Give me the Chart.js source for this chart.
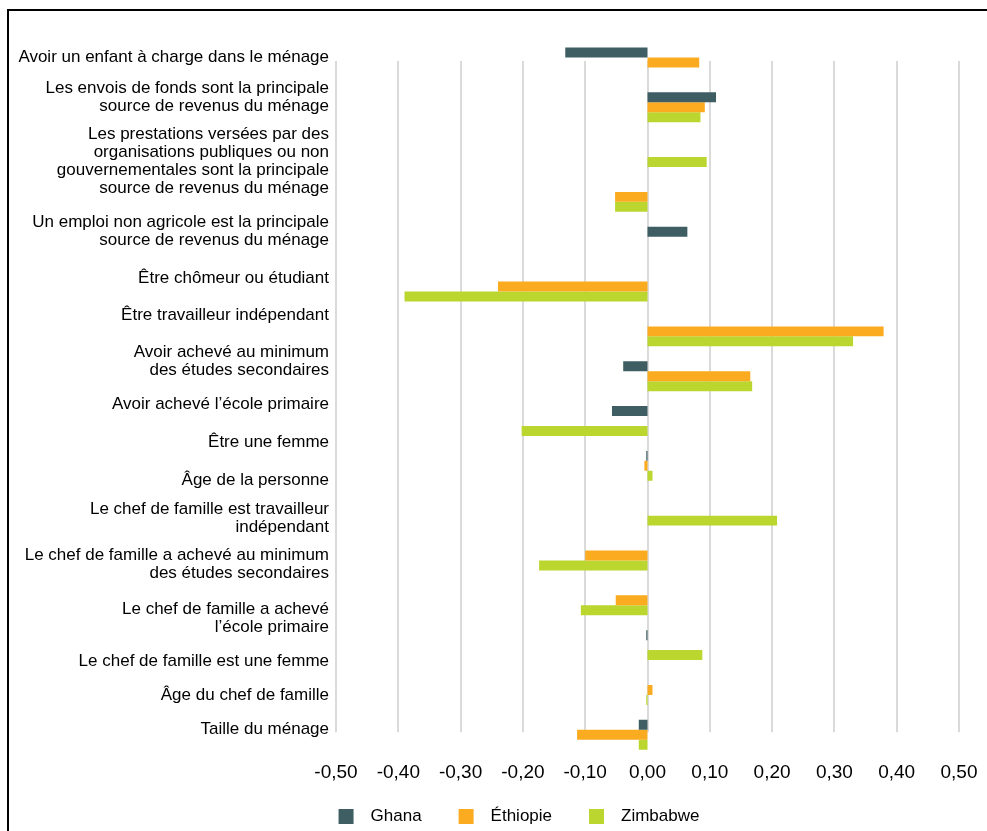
<!DOCTYPE html>
<html>
<head>
<meta charset="utf-8">
<script src="https://cdn.jsdelivr.net/npm/chart.js@4.4.1/dist/chart.umd.min.js"></script>
<style>
  html, body { margin: 0; padding: 0; background: #fff; overflow: hidden; }
  #wrap { position: absolute; left: 0; top: 0; width: 987px; height: 835px; }
  #frame { position: absolute; left: 7px; top: 9px; width: 980px; height: 830px;
           border-top: 2px solid #000; border-left: 2px solid #000; }
</style>
</head>
<body>
<div id="frame"></div>
<div id="wrap"><canvas id="myChart"></canvas></div>
<script>
// Categories, top to bottom
let categories = [
    "Avoir un enfant à charge dans le ménage",
    ["Les envois de fonds sont la principale", "source de revenus du ménage"],
    ["Les prestations versées par des", "organisations publiques ou non", "gouvernementales sont la principale", "source de revenus du ménage"],
    ["Un emploi non agricole est la principale", "source de revenus du ménage"],
    "Être chômeur ou étudiant",
    "Être travailleur indépendant",
    ["Avoir achevé au minimum", "des études secondaires"],
    "Avoir achevé l’école primaire",
    "Être une femme",
    "Âge de la personne",
    ["Le chef de famille est travailleur", "indépendant"],
    ["Le chef de famille a achevé au minimum", "des études secondaires"],
    ["Le chef de famille a achevé", "l’école primaire"],
    "Le chef de famille est une femme",
    "Âge du chef de famille",
    "Taille du ménage"
];

// Series values (null = no bar)
let ghana    = [-0.132, 0.110, null, null, 0.064, null, null, -0.039, -0.057, -0.002, null, null, null, -0.002, null, -0.014];
let ethiopie = [0.083, 0.092, null, -0.052, null, -0.240, 0.379, 0.165, null, -0.005, null, -0.100, -0.051, null, 0.008, -0.113];
let zimbabwe = [null, 0.085, 0.095, -0.052, null, -0.390, 0.330, 0.168, -0.202, 0.008, 0.208, -0.174, -0.107, 0.088, -0.002, -0.014];

// Tick values on the x axis
let xTicks = [-0.5, -0.4, -0.3, -0.2, -0.1, 0, 0.1, 0.2, 0.3, 0.4, 0.5];

let fontFamily = "'Liberation Sans', Arial, sans-serif";

// in the original the category labels are spaced by hand, not on the bar centres
let labelNudge = [-5, -10, 9, 34, 37, 29, 30, 28, 21, 14, 8, 9, 18, 16, 5, -5];

// vertical gridlines that stop short of the plot edges
const shortGrid = {
    id: 'shortGrid',
    beforeDatasetsDraw(chart) {
        const ctx = chart.ctx;
        const area = chart.chartArea;
        const x = chart.scales.x;
        ctx.save();
        ctx.strokeStyle = '#dadada';
        ctx.lineWidth = 2;
        xTicks.forEach(function(v) {
            let px = Math.round(x.getPixelForValue(v));
            ctx.beginPath();
            ctx.moveTo(px, area.top + 21);
            ctx.lineTo(px, area.bottom - 25);
            ctx.stroke();
        });
        ctx.restore();
    }
};

// category labels, drawn next to the y scale
const catLabels = {
    id: 'catLabels',
    afterDraw(chart) {
        const ctx = chart.ctx;
        const y = chart.scales.y;
        const right = chart.chartArea.left - 7;
        ctx.save();
        ctx.fillStyle = '#000';
        ctx.font = "17px " + fontFamily;
        ctx.textAlign = 'right';
        ctx.textBaseline = 'middle';
        categories.forEach(function(lab, i) {
            let lines = Array.isArray(lab) ? lab : [lab];
            let cy = y.getPixelForValue(i) + labelNudge[i];
            lines.forEach(function(line, j) {
                ctx.fillText(line, right, cy + (j - (lines.length - 1) / 2) * 18);
            });
        });
        ctx.restore();
    }
};

// move the legend a little to the right, like in the original
const legendShift = {
    id: 'legendShift',
    afterLayout(chart) {
        chart.legend.left += 43;
        chart.legend.right += 43;
    }
};

document.addEventListener("DOMContentLoaded", function() {
    let ctx = document.getElementById('myChart').getContext('2d');
    new Chart(ctx, {
        type: 'bar',
        data: {
            labels: categories,
            datasets: [
                { label: 'Ghana', data: ghana, backgroundColor: '#3f5e63' },
                { label: 'Éthiopie', data: ethiopie, backgroundColor: '#fbab20' },
                { label: 'Zimbabwe', data: zimbabwe, backgroundColor: '#bad62f' }
            ]
        },
        plugins: [shortGrid, catLabels, legendShift],
        options: {
            indexAxis: 'y',
            responsive: true,
            maintainAspectRatio: false,
            animation: false,
            categoryPercentage: 0.667,
            barPercentage: 1,
            layout: { padding: { left: 10, right: 28, top: 40, bottom: 0 } },
            scales: {
                x: {
                    min: -0.5,
                    max: 0.5,
                    afterBuildTicks: function(scale) {
                        scale.ticks = xTicks.map(function(v) { return { value: v }; });
                    },
                    grid: { display: false, drawTicks: false },
                    border: { display: false },
                    ticks: {
                        color: '#000',
                        padding: 4,
                        maxRotation: 0,
                        font: { family: fontFamily, size: 19 },
                        callback: function(v) { return Number(v).toFixed(2).replace('.', ','); }
                    }
                },
                y: {
                    afterFit: function(scale) { scale.width = 326; },
                    grid: { display: false, drawTicks: false },
                    border: { display: false },
                    ticks: { display: false }
                }
            },
            plugins: {
                legend: {
                    position: 'bottom',
                    labels: {
                        color: '#000',
                        boxWidth: 15,
                        boxHeight: 15,
                        padding: 20,
                        font: { family: fontFamily, size: 17 },
                        generateLabels: function(chart) {
                            let items = Chart.defaults.plugins.legend.labels.generateLabels(chart);
                            items.forEach(function(it) { it.text = '\u2002' + it.text + '\u2003'; });
                            return items;
                        }
                    }
                },
                tooltip: { enabled: false }
            }
        }
    });
});
</script>
</body>
</html>
